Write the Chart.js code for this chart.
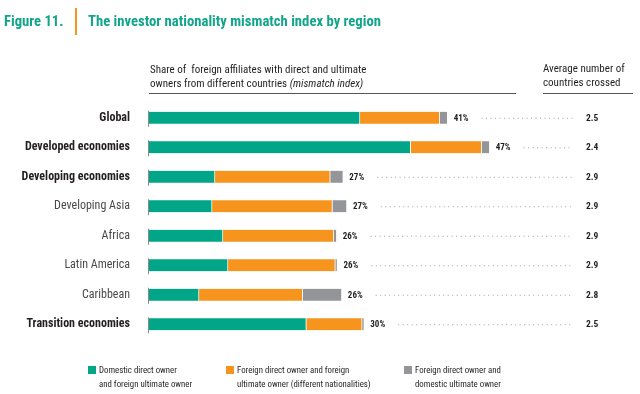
<!DOCTYPE html>
<html>
<head>
<meta charset="utf-8">
<script src="https://cdn.jsdelivr.net/npm/chart.js@4.4.1/dist/chart.umd.min.js"></script>
<style>
  body { margin: 0; background: #fff; }
  #wrap { position: relative; width: 640px; height: 394px; overflow: hidden;
          font-family: "Roboto Condensed", Roboto, sans-serif; color: #231f20; }
  #chart { position: absolute; left: 0; top: 0; }
  .abs { position: absolute; white-space: nowrap; }
  .title { font-weight: bold; font-size: 14.7px; color: #12a58a; line-height: 16px; }
  .head { font-size: 11px; line-height: 13.5px; }
  .rule { position: absolute; height: 1px; background: #555; }
  .leg { font-size: 8.8px; line-height: 14px; color: #231f20; }
  .sw { position: absolute; width: 8px; height: 8px; }
</style>
</head>
<body>
<div id="wrap">
  <canvas id="chart" width="640" height="394"></canvas>

  <div class="abs title" style="left:4px; top:13px;">Figure 11.</div>
  <div class="abs" style="left:75px; top:8px; width:2px; height:27px; background:#f7941d;"></div>
  <div class="abs title" style="left:88px; top:13px;">The investor nationality mismatch index by region</div>

  <div class="abs head" style="left:150px; top:63px;">Share of&nbsp; foreign affiliates with direct and ultimate<br>owners from different countries <i>(mismatch index)</i></div>
  <div class="rule" style="left:149px; top:93px; width:367px;"></div>
  <div class="abs head" style="left:543px; top:62px;">Average number of<br>countries crossed</div>
  <div class="rule" style="left:543px; top:93px; width:90px;"></div>

  <div class="sw" style="left:88px; top:366px; background:#00a687;"></div>
  <div class="abs leg" style="left:99px; top:363px;">Domestic direct owner<br>and foreign ultimate owner</div>
  <div class="sw" style="left:226px; top:366px; background:#f7941d;"></div>
  <div class="abs leg" style="left:237px; top:363px;">Foreign direct owner and foreign<br>ultimate owner (different nationalities)</div>
  <div class="sw" style="left:404px; top:366px; background:#939598;"></div>
  <div class="abs leg" style="left:415px; top:363px;">Foreign direct owner and<br>domestic ultimate owner</div>
</div>

<script>
// data (percent of foreign affiliates)
const regions = ['Global', 'Developed economies', 'Developing economies', 'Developing Asia',
                 'Africa', 'Latin America', 'Caribbean', 'Transition economies'];
const boldRows = ['Global', 'Developed economies', 'Developing economies', 'Transition economies'];
const domesticForeign = [29.1, 36.1, 9.1, 8.7, 10.2, 10.9, 6.9, 21.7];
const foreignForeign = [11.0, 9.8, 15.9, 16.6, 15.3, 14.8, 14.3, 7.7];
const foreignDomestic = [1.1, 1.1, 1.8, 2.0, 0.4, 0.3, 5.4, 0.3];
const mismatchIndex = ['41%', '47%', '27%', '27%', '26%', '26%', '26%', '30%'];
const avgCountries = ['2.5', '2.4', '2.9', '2.9', '2.9', '2.9', '2.8', '2.5'];

const FONT = '"Roboto Condensed", Roboto, sans-serif';

// short axis ticks, % labels, dotted leaders and the right-hand column
const extras = {
    id: 'extras',
    afterDatasetsDraw(chart) {
        const ctx = chart.ctx;
        const last = chart.getDatasetMeta(2).data;
        const first = chart.getDatasetMeta(0).data;
        const dotsEnd = 573;
        ctx.save();
        last.forEach((bar, i) => {
            const y = bar.y;
            const h = bar.height;
            // little vertical tick at the base of each bar
            ctx.strokeStyle = '#8a8a8a';
            ctx.lineWidth = 1;
            ctx.beginPath();
            ctx.moveTo(first[i].base - 0.5, y - h / 2 - 1);
            ctx.lineTo(first[i].base - 0.5, y + h / 2 + 3);
            ctx.stroke();

            ctx.font = 'bold 9px ' + FONT;
            ctx.fillStyle = '#231f20';
            ctx.textBaseline = 'middle';
            ctx.textAlign = 'left';
            const lx = bar.x + 6;
            ctx.fillText(mismatchIndex[i], lx, y + 0.5);
            const w = ctx.measureText(mismatchIndex[i]).width;

            ctx.strokeStyle = '#a0a0a0';
            ctx.setLineDash([1, 3.5]);
            ctx.beginPath();
            ctx.moveTo(lx + w + 13, y + 0.5);
            ctx.lineTo(dotsEnd, y + 0.5);
            ctx.stroke();
            ctx.setLineDash([]);

            ctx.font = 'bold 9.5px ' + FONT;
            ctx.fillText(avgCountries[i], 586, y + 0.5);
        });
        ctx.restore();
    }
};

const seg = (label, data, color) => ({
    label: label,
    data: data,
    backgroundColor: color,
    borderColor: 'rgba(255,255,255,0.7)',
    borderWidth: { right: 1 },
    borderSkipped: false,
    barThickness: 12
});

new Chart(document.getElementById('chart'), {
    type: 'bar',
    data: {
        labels: regions,
        datasets: [
            seg('Domestic direct owner and foreign ultimate owner', domesticForeign, '#00a687'),
            seg('Foreign direct owner and foreign ultimate owner', foreignForeign, '#f7941d'),
            seg('Foreign direct owner and domestic ultimate owner', foreignDomestic, '#939598')
        ]
    },
    options: {
        indexAxis: 'y',
        responsive: false,
        animation: false,
        layout: { padding: { top: 103, bottom: 55, right: 56, left: 0 } },
        scales: {
            x: {
                stacked: true,
                min: 0,
                max: 60,
                display: false
            },
            y: {
                stacked: true,
                grid: { display: false, drawTicks: false },
                border: { display: false },
                afterFit: (scale) => { scale.width = 149; },
                ticks: {
                    padding: 19,
                    color: (c) => boldRows.includes(regions[c.index]) ? '#231f20' : '#4a4a4a',
                    font: (c) => ({
                        family: FONT,
                        size: 12,
                        weight: boldRows.includes(regions[c.index]) ? 'bold' : 'normal'
                    })
                }
            }
        },
        plugins: {
            legend: { display: false },
            tooltip: { enabled: false }
        }
    },
    plugins: [extras]
});
</script>
</body>
</html>
